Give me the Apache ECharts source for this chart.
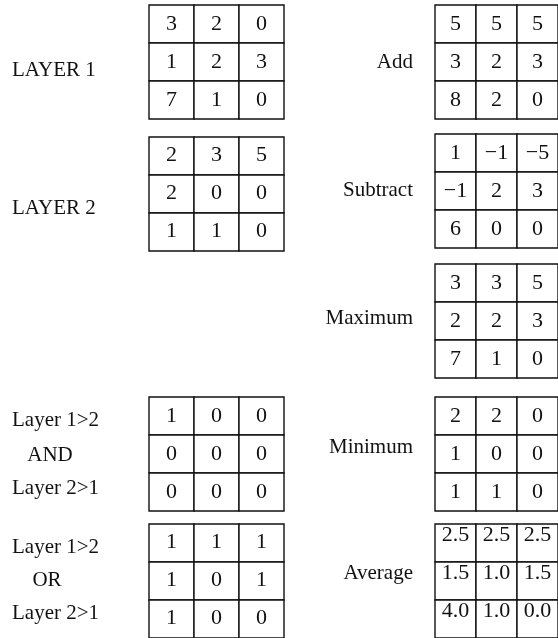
<!DOCTYPE html>
<html>
<head>
<meta charset="utf-8">
<script src="https://cdn.jsdelivr.net/npm/echarts@6/dist/echarts.min.js"></script>
<style>
html,body{margin:0;padding:0;background:#fff;}
#chart{width:558px;height:638px;}
</style>
</head>
<body>
<div id="chart"></div>
<script>
// ---- data ----
const cols = ['c1', 'c2', 'c3'];
const rows = ['r1', 'r2', 'r3'];
const layer1 = [[3, 2, 0], [1, 2, 3], [7, 1, 0]];
const layer2 = [[2, 3, 5], [2, 0, 0], [1, 1, 0]];
const addVals = [[5, 5, 5], [3, 2, 3], [8, 2, 0]];
const subtractVals = [[1, -1, -5], [-1, 2, 3], [6, 0, 0]];
const maximumVals = [[3, 3, 5], [2, 2, 3], [7, 1, 0]];
const minimumVals = [[2, 2, 0], [1, 0, 0], [1, 1, 0]];
const averageVals = [[2.5, 2.5, 2.5], [1.5, 1.0, 1.5], [4.0, 1.0, 0.0]];
const andVals = [[1, 0, 0], [0, 0, 0], [0, 0, 0]];
const orVals = [[1, 1, 1], [1, 0, 1], [1, 0, 0]];

// ---- layout ----
const FONT = '21px "Liberation Serif", "Times New Roman", serif';
const NUM_FONT = '22px "Liberation Serif", "Times New Roman", serif';
const matrices = [
  { vals: layer1,       left: 149, top: 5,   decimals: 0, dy: 0 },
  { vals: layer2,       left: 149, top: 137, decimals: 0, dy: -1 },
  { vals: andVals,      left: 149, top: 397, decimals: 0, dy: 0 },
  { vals: orVals,       left: 149, top: 524, decimals: 0, dy: -1 },
  { vals: addVals,      left: 435, top: 5,   decimals: 0, dy: 0 },
  { vals: subtractVals, left: 435, top: 134, decimals: 0, dy: 0 },
  { vals: maximumVals,  left: 435, top: 264, decimals: 0, dy: 0 },
  { vals: minimumVals,  left: 435, top: 397, decimals: 0, dy: 0 },
  { vals: averageVals,  left: 435, top: 524, decimals: 1, dy: -8 }
];
const GW = 135, GH = 114;

function fmt(v, d) {
  const s = d > 0 ? v.toFixed(d) : String(v);
  return s.replace('-', '\u2212');
}

const grid = [], xAxis = [], yAxis = [], series = [];
matrices.forEach((m, i) => {
  grid.push({ left: m.left, top: m.top, width: GW, height: GH });
  xAxis.push({ type: 'category', data: cols, gridIndex: i, show: false });
  yAxis.push({ type: 'category', data: rows, gridIndex: i, inverse: true, show: false });
  const data = [];
  m.vals.forEach((r, ri) => r.forEach((v, ci) => data.push([ci, ri, v])));
  series.push({
    type: 'custom',
    xAxisIndex: i,
    yAxisIndex: i,
    data: data,
    silent: true,
    clip: false,
    renderItem: function (params, api) {
      const p = api.coord([api.value(0), api.value(1)]);
      const s = api.size([1, 1]);
      const v = api.value(2);
      return {
        type: 'group',
        children: [
          {
            type: 'rect',
            shape: { x: p[0] - s[0] / 2, y: p[1] - s[1] / 2, width: s[0], height: s[1] },
            style: { fill: '#fff', stroke: '#111', lineWidth: 1.4 }
          },
          {
            type: 'text',
            x: p[0],
            y: p[1] + m.dy,
            style: {
              text: fmt(v, m.decimals),
              font: NUM_FONT,
              fill: '#111',
              align: 'center',
              verticalAlign: 'middle'
            }
          }
        ]
      };
    }
  });
});

function label(text, x, y, align) {
  return {
    type: 'text',
    x: x, y: y,
    style: { text: text, font: FONT, fill: '#111', align: align, verticalAlign: 'middle' }
  };
}

const graphic = [
  label('LAYER 1', 12, 70, 'left'),
  label('LAYER 2', 12, 208, 'left'),
  label('Layer 1>2', 12, 420, 'left'),
  label('AND', 50, 455, 'center'),
  label('Layer 2>1', 12, 488, 'left'),
  label('Layer 1>2', 12, 547, 'left'),
  label('OR', 47, 580, 'center'),
  label('Layer 2>1', 12, 613, 'left'),
  label('Add', 413, 62, 'right'),
  label('Subtract', 413, 190, 'right'),
  label('Maximum', 413, 318, 'right'),
  label('Minimum', 413, 447, 'right'),
  label('Average', 413, 573, 'right')
];

const chart = echarts.init(document.getElementById('chart'), null, { renderer: 'canvas' });
chart.setOption({
  animation: false,
  backgroundColor: '#fff',
  grid: grid,
  xAxis: xAxis,
  yAxis: yAxis,
  series: series,
  graphic: graphic
});
</script>
</body>
</html>
